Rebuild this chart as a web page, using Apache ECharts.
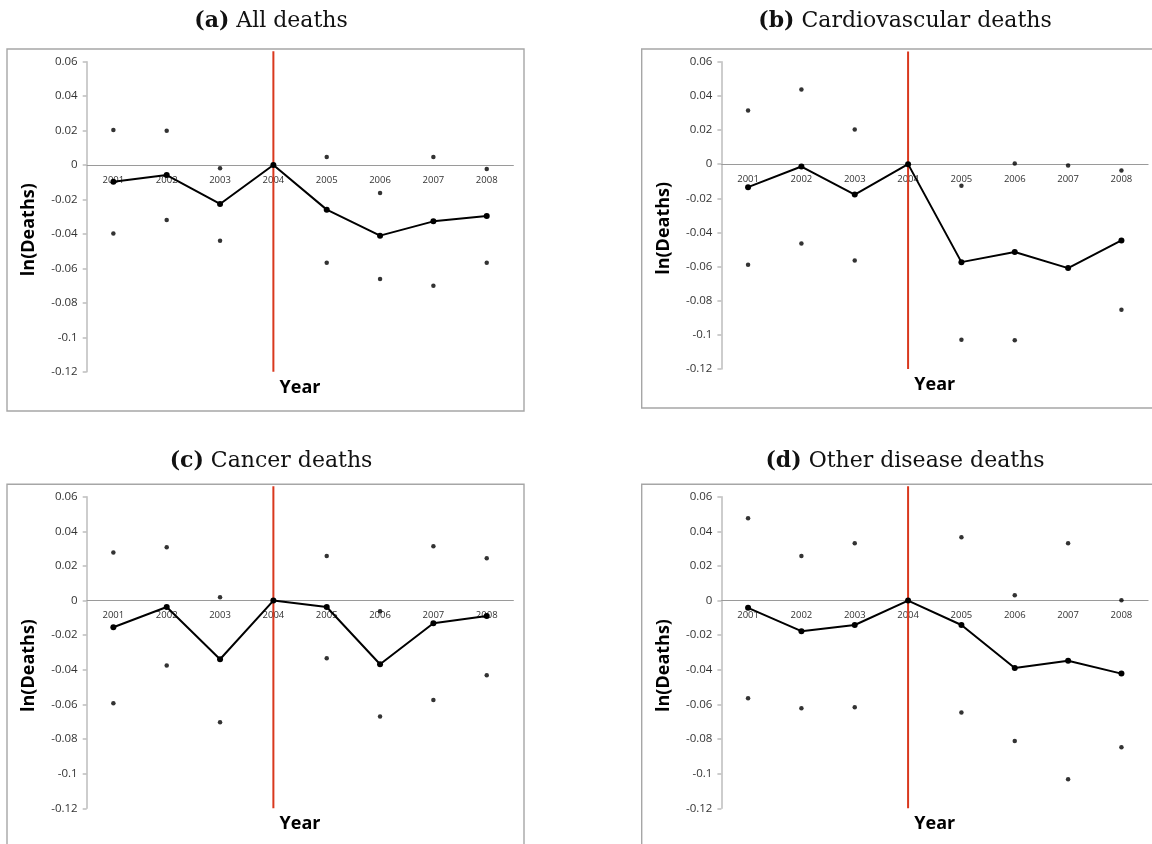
<!DOCTYPE html>
<html>
<head>
<meta charset="utf-8">
<script src="https://cdn.jsdelivr.net/npm/echarts@6/dist/echarts.min.js"></script>
<style>
html,body{margin:0;padding:0;background:#fff;}
#c{width:1152px;height:844px;}
</style>
</head>
<body>
<div id="c"></div>
<script>
// ---- data ----
var years = ['2001','2002','2003','2004','2005','2006','2007','2008'];
var yMin = -0.12, yMax = 0.06, yStep = 0.02;
var panelTitles = ['(a)|All deaths', '(b)|Cardiovascular deaths', '(c)|Cancer deaths', '(d)|Other disease deaths'];

var allMain  = [-0.0097, -0.0058, -0.0226, 0, -0.0259, -0.0410, -0.0327, -0.0296];
var allUpper = [0.0203, 0.0199, -0.0019, null, 0.0046, -0.0163, 0.0046, -0.0023];
var allLower = [-0.0397, -0.0319, -0.0439, null, -0.0567, -0.0662, -0.0701, -0.0567];

var cardioMain  = [-0.0135, -0.0014, -0.0178, 0, -0.0574, -0.0515, -0.0609, -0.0447];
var cardioUpper = [0.0314, 0.0437, 0.0203, null, -0.0127, 0.0004, -0.0008, -0.0037];
var cardioLower = [-0.0590, -0.0465, -0.0564, null, -0.1029, -0.1032, null, -0.0853];

var cancerMain  = [-0.0154, -0.0037, -0.0339, 0, -0.0037, -0.0368, -0.0131, -0.0089];
var cancerUpper = [0.0277, 0.0308, 0.0019, null, 0.0258, -0.0062, 0.0314, 0.0245];
var cancerLower = [-0.0593, -0.0375, -0.0703, null, -0.0333, -0.0670, -0.0574, -0.0431];

var otherMain  = [-0.0042, -0.0177, -0.0141, 0, -0.0141, -0.0389, -0.0348, -0.0422];
var otherUpper = [0.0476, 0.0258, 0.0331, null, 0.0366, 0.0031, 0.0331, 0.0002];
var otherLower = [-0.0564, -0.0622, -0.0616, null, -0.0647, -0.0811, -0.1032, -0.0847];

var policyYear = '2004';
var policyLineRange = [0.066, -0.12];

// ---- layout ----
var panels = [
  {main: allMain, upper: allUpper, lower: allLower, grid: {left: 86.7, top: 61.7, width: 426.7, height: 310}, frame: [7, 49, 517, 362], title: [266, 5]},
  {main: cardioMain, upper: cardioUpper, lower: cardioLower, grid: {left: 721.4, top: 61.7, width: 426.7, height: 307.3}, frame: [641.7, 49, 530, 359], title: [900, 5]},
  {main: cancerMain, upper: cancerUpper, lower: cancerLower, grid: {left: 86.7, top: 496.7, width: 426.7, height: 311.6}, frame: [7, 484.3, 517, 400], title: [266, 445]},
  {main: otherMain, upper: otherUpper, lower: otherLower, grid: {left: 721.4, top: 496.7, width: 426.7, height: 311.6}, frame: [641.7, 484.3, 530, 400], title: [900, 445]}
];

var option = {
  animation: false,
  backgroundColor: '#ffffff',
  title: [], grid: [], xAxis: [], yAxis: [], series: [], graphic: []
};

panels.forEach(function (p, i) {
  var parts = panelTitles[i].split('|');
  option.title.push({
    text: '{b|' + parts[0] + '} ' + parts[1],
    left: p.title[0], top: p.title[1], textAlign: 'center',
    textStyle: {fontFamily: 'DejaVu Serif', fontSize: 22, fontWeight: 'normal', color: '#111',
      rich: {b: {fontFamily: 'DejaVu Serif', fontSize: 22, fontWeight: 'bold', color: '#111'}}}
  });
  option.graphic.push({
    type: 'rect', silent: true, z: -1,
    shape: {x: p.frame[0], y: p.frame[1], width: p.frame[2], height: p.frame[3]},
    style: {fill: 'none', stroke: '#a6a6a6', lineWidth: 1.4}
  });
  option.grid.push({left: p.grid.left, top: p.grid.top, width: p.grid.width, height: p.grid.height, containLabel: false});
  // distance of the zero level above the grid bottom, from the value scale
  var zeroOffset = p.grid.height * (0 - yMin) / (yMax - yMin);
  option.xAxis.push({
    type: 'category', gridIndex: i, data: years, boundaryGap: true, position: 'bottom',
    offset: -zeroOffset,
    axisLine: {onZero: false, lineStyle: {color: '#9a9a9a', width: 1}},
    axisTick: {show: false},
    axisLabel: {fontFamily: 'Open Sans', fontSize: 9.5, color: '#333', margin: 10},
    splitLine: {show: false}
  });
  // bottom axis carrying the "Year" name
  option.xAxis.push({
    type: 'category', gridIndex: i, data: years, boundaryGap: true, position: 'bottom',
    axisLine: {show: false, onZero: false}, axisTick: {show: false}, axisLabel: {show: false},
    name: 'Year', nameLocation: 'middle', nameGap: 7,
    nameTextStyle: {fontFamily: 'Open Sans', fontSize: 18, fontWeight: 'bold', color: '#000'}
  });
  option.yAxis.push({
    type: 'value', gridIndex: i, min: yMin, max: yMax, interval: yStep,
    axisLine: {show: true, onZero: false, lineStyle: {color: '#bdbdbd', width: 1.5}},
    axisTick: {show: true, length: 4, lineStyle: {color: '#bdbdbd', width: 1.5}},
    splitLine: {show: false},
    axisLabel: {fontFamily: 'Open Sans', fontSize: 11.5, color: '#333', margin: 9,
      formatter: function (v) { return String(Math.round(v * 100) / 100); }},
    name: 'ln(Deaths)', nameLocation: 'middle', nameGap: 49,
    nameTextStyle: {fontFamily: 'Open Sans', fontSize: 18, fontWeight: 'bold', color: '#000', padding: [0, 26, 0, 0]}
  });
  var xi = i * 2;
  option.series.push({
    type: 'scatter', xAxisIndex: xi, yAxisIndex: i, data: p.upper,
    symbol: 'circle', symbolSize: 4.5, itemStyle: {color: '#000'}, z: 2
  });
  option.series.push({
    type: 'scatter', xAxisIndex: xi, yAxisIndex: i, data: p.lower,
    symbol: 'circle', symbolSize: 4.5, itemStyle: {color: '#000'}, z: 2
  });
  option.series.push({
    type: 'line', xAxisIndex: xi, yAxisIndex: i, clip: false,
    data: [[policyYear, policyLineRange[0]], [policyYear, policyLineRange[1]]],
    symbol: 'none', lineStyle: {color: '#d9381e', width: 2}, z: 3
  });
  option.series.push({
    type: 'line', xAxisIndex: xi, yAxisIndex: i, data: p.main,
    symbol: 'circle', symbolSize: 6, showSymbol: true,
    itemStyle: {color: '#000'}, lineStyle: {color: '#000', width: 2}, z: 4
  });
});

var chart = echarts.init(document.getElementById('c'), null, {renderer: 'canvas'});
chart.setOption(option);
</script>
</body>
</html>
